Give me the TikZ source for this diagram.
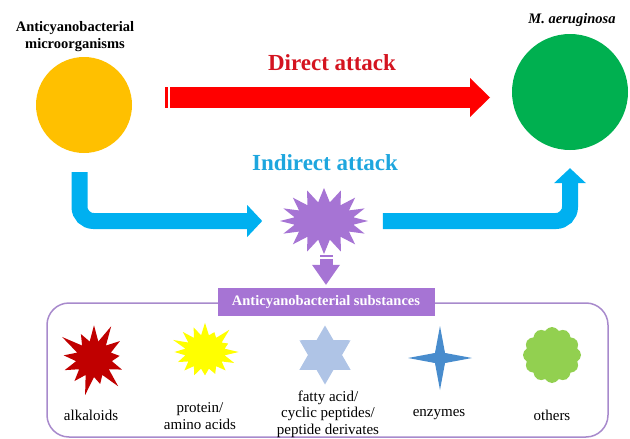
\documentclass[tikz,border=0pt]{standalone}
\usepackage{fontspec}
\setmainfont{Liberation Serif}
\usetikzlibrary{shapes.geometric,shapes.symbols,arrows.meta}
\definecolor{orgyellow}{RGB}{255,192,0}
\definecolor{cyagreen}{RGB}{0,176,80}
\definecolor{atkred}{RGB}{255,0,0}
\definecolor{ttlred}{RGB}{212,20,32}
\definecolor{atkblue}{RGB}{0,176,240}
\definecolor{ttlblue}{RGB}{30,166,222}
\definecolor{subpurple}{RGB}{166,116,212}
\definecolor{boxline}{RGB}{168,138,204}
\definecolor{alkred}{RGB}{192,0,0}
\definecolor{proyellow}{RGB}{255,255,0}
\definecolor{fatblue}{RGB}{175,196,230}
\definecolor{enzblue}{RGB}{72,140,205}
\definecolor{othgreen}{RGB}{146,208,80}

\begin{document}
\begin{tikzpicture}[x=1pt,y=-1pt,
  ball/.style={circle,inner sep=0pt},
  ttl/.style={font=\fontsize{14.5}{17}\selectfont\bfseries,align=center},
  big/.style={font=\fontsize{23}{26}\selectfont\bfseries},
  lbl/.style={font=\fontsize{15}{16.5}\selectfont,align=center},
  shp/.style={inner sep=0pt},
  redarr/.style={atkred,line width=21pt,-{Triangle[width=39pt,length=20pt,line width=0pt]}},
  bluearr/.style={atkblue,line width=16pt,rounded corners=14pt,-{Triangle[width=32pt,length=15pt,line width=0pt]}},
  purarr/.style={subpurple,line width=13pt,-{Triangle[width=28pt,length=20pt,line width=0pt]}}]
\useasboundingbox (0,0) rectangle (630,439);

\node (micro) [ball,fill=orgyellow,minimum size=96pt] at (84,105) {};
\node (aer) [ball,fill=cyagreen,minimum size=116pt] at (570,92) {};
\node (microlbl) [ttl] at (75,37) {Anticyanobacterial\\microorganisms};
\node (aerlbl) [ttl,font=\fontsize{14.5}{17}\selectfont\bfseries\itshape] at (572,20) {M. aeruginosa};

\node (direct) [big,text=ttlred] at (332,63) {Direct attack};
\node (indirect) [big,text=ttlblue] at (325,163) {Indirect attack};

\coordinate (da) at (170,97.5);
\coordinate (db) at (490,97.5);
\fill[atkred] (164.5,87) rectangle (167.5,108);
\draw[redarr] (da) -- (db);

\node (burst) [starburst,starburst points=16,starburst point height=14pt,random starburst=0,
  fill=subpurple,shp,minimum width=88pt,minimum height=66pt] at (324,221) {};

\coordinate (ia) at (79.5,172);
\draw[bluearr,shorten >=17pt] (ia) |- (burst.west);
\draw[bluearr,shorten <=14pt,shorten >=18pt] (burst.east) -| (aer.south);

\draw[boxline,line width=1.5pt,rounded corners=22pt] (47,303) rectangle (608,437);
\node (subs) [fill=subpurple,text=white,minimum width=217pt,minimum height=28pt,
  font=\fontsize{14.5}{17}\selectfont\bfseries] at (326,302) {Anticyanobacterial substances};

\coordinate (ps) at (326,259);
\fill[subpurple] (319.5,254.5) rectangle (332.5,257);
\draw[purarr,shorten >=3pt] (ps) -- (subs.north);

\node (alk) [starburst,starburst points=13,starburst point height=22pt,fill=alkred,shp,
  minimum width=80pt,minimum height=80pt] at (94,359) {};
\node (pro) [starburst,starburst points=16,starburst point height=16pt,random starburst=57,
  fill=proyellow,shp,minimum width=72pt,minimum height=66pt] at (205,352) {};
\node (fat) [star,star points=6,star point ratio=1.73,fill=fatblue,shp,minimum size=59pt] at (325,355) {};
\node (enz) [star,star points=4,star point ratio=4.5,fill=enzblue,shp,minimum size=64pt] at (440,358) {};
\node (oth) [cloud,cloud puffs=12,cloud puff arc=120,aspect=1,fill=othgreen,shp,
  minimum width=58pt,minimum height=56pt] at (552,355) {};

\node (alklbl) [lbl] at (91,415) {alkaloids};
\node (prolbl) [lbl] at (200,416) {protein/\\amino acids};
\node (fatlbl) [lbl] at (328,414) {fatty acid/\\cyclic peptides/\\peptide derivates};
\node (enzlbl) [lbl] at (439,415) {enzymes};
\node (othlbl) [lbl] at (552,415) {others};
\end{tikzpicture}
\end{document}
